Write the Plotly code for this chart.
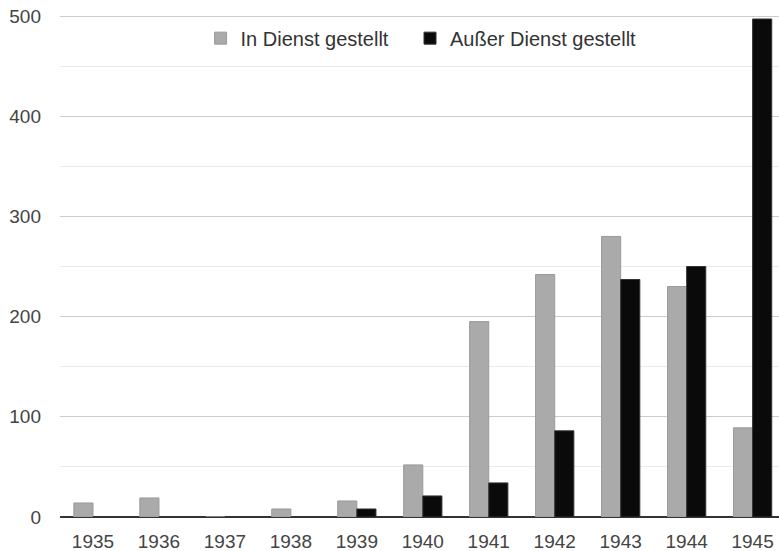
import plotly.graph_objects as go

years = ['1935', '1936', '1937', '1938', '1939', '1940',
         '1941', '1942', '1943', '1944', '1945']
in_dienst = [14, 19, 0, 8, 16, 52, 195, 242, 280, 230, 89]
ausser_dienst = [0, 0, 0, 0, 8, 21, 34, 86, 237, 250, 497]

fig = go.Figure()

fig.add_trace(go.Bar(
    x=years,
    y=in_dienst,
    name='In Dienst gestellt',
    legend='legend',
    showlegend=True,
    marker=dict(color='#aaaaaa', line=dict(color='#9a9a9a', width=1))
))

fig.add_trace(go.Bar(
    x=years,
    y=ausser_dienst,
    name='Außer Dienst gestellt',
    legend='legend2',
    showlegend=True,
    marker=dict(color='#0a0a0a', line=dict(color='#333333', width=1))
))

legend_style = dict(
    orientation='h',
    xanchor='left',
    y=0.952,
    yanchor='middle',
    font=dict(size=20, color='#333333'),
    bgcolor='rgba(0,0,0,0)'
)

fig.update_layout(
    width=779,
    height=551,
    showlegend=True,
    margin=dict(l=60, r=0, t=14, b=34, autoexpand=False),
    paper_bgcolor='white',
    plot_bgcolor='white',
    barmode='group',
    bargap=0.42,
    bargroupgap=0,
    font=dict(family='Liberation Sans, Arial, sans-serif', size=19, color='#444444'),
    legend=dict(x=0.1955, **legend_style),
    legend2=dict(x=0.4868, **legend_style),
    xaxis=dict(
        type='category',
        range=[-0.5, 10.4],
        showgrid=False,
        showline=False,
        ticks='',
        ticklabelstandoff=11,
        ticklabeloverflow='allow',
        automargin=False
    ),
    yaxis=dict(
        range=[0, 502],
        tickvals=[0, 100, 200, 300, 400, 500],
        showgrid=True,
        gridcolor='#cccccc',
        gridwidth=1,
        minor=dict(tickvals=[50, 150, 250, 350, 450], showgrid=True,
                   gridcolor='#ebebeb', gridwidth=1),
        zeroline=True,
        zerolinecolor='#333333',
        zerolinewidth=1.5,
        showline=False,
        ticks='',
        ticklabelstandoff=18,
        ticklabeloverflow='allow',
        automargin=False
    )
)

# drop the default body margin so the figure fills the window exactly
fig.write_html("out.html",
               config={'displayModeBar': False},
               post_script="document.body.style.margin='0';document.body.style.overflow='hidden';")
